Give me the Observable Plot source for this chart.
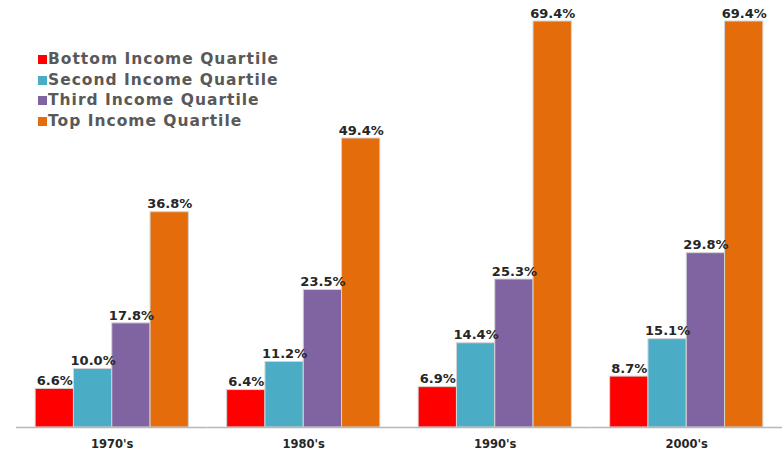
<!DOCTYPE html>
<html>
<head>
<meta charset="utf-8">
<script src="https://cdn.jsdelivr.net/npm/d3@7"></script>
<script src="https://cdn.jsdelivr.net/npm/@observablehq/plot@0.6"></script>
<style>
  body { margin: 0; background: #fff; }
  #wrap { position: relative; width: 782px; height: 451px; }
  #legend { position: absolute; left: 38px; top: 49px; font-family: "DejaVu Sans", Verdana, sans-serif; font-weight: bold; font-size: 15.5px; letter-spacing: 1px; color: #595959; line-height: 20.7px; }
  #legend .sw { display: inline-block; width: 9px; height: 9px; margin-right: 1px; vertical-align: 0px; }
</style>
</head>
<body>
<div id="wrap"><div id="legend"></div></div>
<script>
const decades = ["1970's", "1980's", "1990's", "2000's"];
const quartiles = ["Bottom Income Quartile", "Second Income Quartile", "Third Income Quartile", "Top Income Quartile"];
const bottom = [6.6, 6.4, 6.9, 8.7];
const second = [10.0, 11.2, 14.4, 15.1];
const third = [17.8, 23.5, 25.3, 29.8];
const top_ = [36.8, 49.4, 69.4, 69.4];
const colors = ["#FF0000", "#4BACC6", "#8064A2", "#E46C0A"];

const series = [bottom, second, third, top_];
const data = [];
decades.forEach((d, i) => quartiles.forEach((q, j) => data.push({decade: d, quartile: q, value: series[j][i]})));

const chart = Plot.plot({
  width: 782,
  height: 451,
  marginLeft: 16,
  marginRight: 0,
  marginTop: 21,
  marginBottom: 24,
  style: {fontFamily: "'DejaVu Sans', Verdana, sans-serif", background: "#fff"},
  fx: {domain: decades, padding: 0, round: false, label: null},
  x: {domain: quartiles, paddingInner: 0, paddingOuter: 0.5, round: false, axis: null},
  y: {domain: [0, 69.4], axis: null},
  color: {domain: quartiles, range: colors},
  marks: [
    Plot.barY(data, {fx: "decade", x: "quartile", y: "value", fill: "quartile", stroke: "#d4d4d4", strokeWidth: 1}),
    Plot.ruleY([0], {stroke: "#b8b8b8", strokeWidth: 1.5}),
    Plot.text(data, {fx: "decade", x: "quartile", y: "value", text: d => d.value.toFixed(1) + "%", dy: -8, fontSize: 13, fontWeight: "bold", fill: "#262626", letterSpacing: "0.6px"}),
    Plot.axisFx({anchor: "bottom", tickSize: 0, tickPadding: 12, fontSize: 11.5, fontWeight: "bold", color: "#262626", label: null, letterSpacing: "1.2px"})
  ]
});
document.getElementById("wrap").prepend(chart);

const legend = document.getElementById("legend");
quartiles.forEach((q, j) => {
  const row = document.createElement("div");
  const sw = document.createElement("span");
  sw.className = "sw";
  sw.style.background = colors[j];
  row.appendChild(sw);
  row.appendChild(document.createTextNode(q));
  legend.appendChild(row);
});
</script>
</body>
</html>
